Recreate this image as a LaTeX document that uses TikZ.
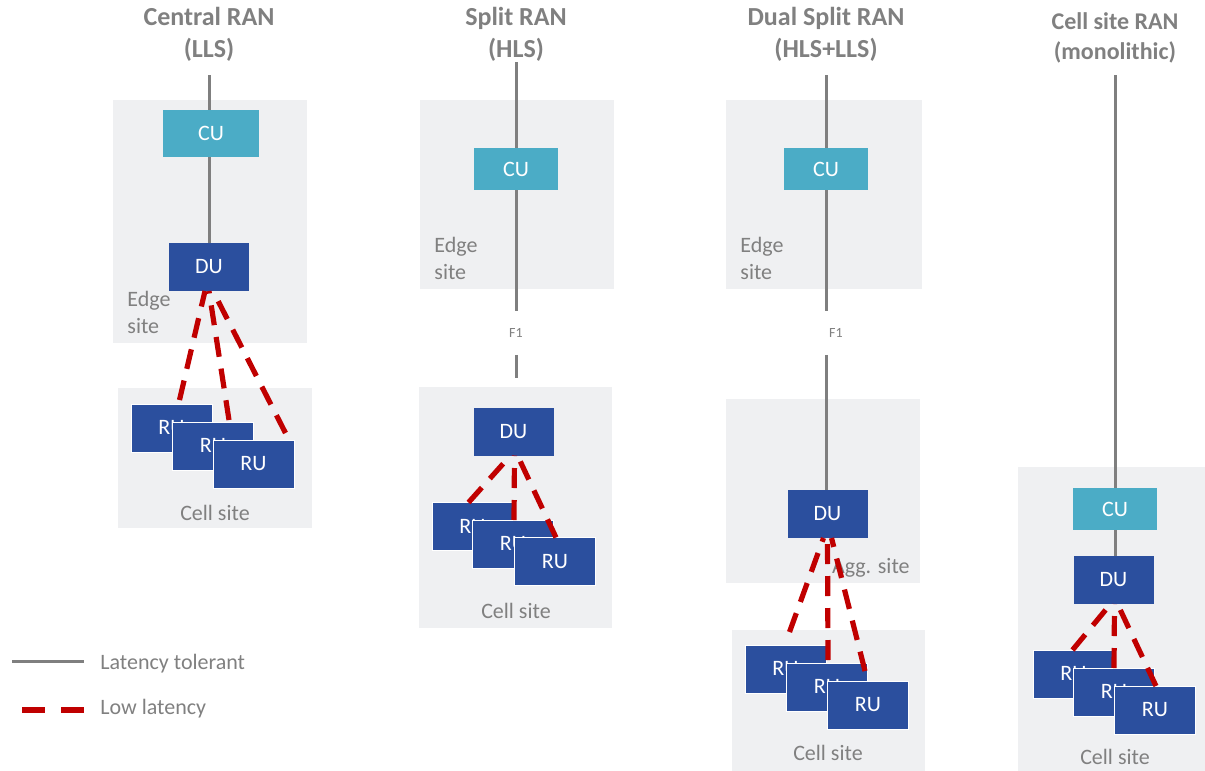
\documentclass[tikz,border=0pt]{standalone}
\usepackage{fontspec}
\setmainfont{Carlito}
\definecolor{sitegray}{HTML}{EFF0F2}
\definecolor{cuteal}{HTML}{4BACC6}
\definecolor{dublue}{HTML}{2B4F9E}
\definecolor{linegray}{HTML}{7F7F7F}
\definecolor{textgray}{HTML}{808080}
\definecolor{lowred}{HTML}{C00000}
\tikzset{
  site/.style={fill=sitegray},
  unit/.style={inner sep=0, outer sep=0, text=white, font=\fontsize{11}{13}\selectfont},
  cu/.style={unit, fill=cuteal, minimum width=42pt, minimum height=21pt},
  du/.style={unit, fill=dublue, minimum width=40pt, minimum height=24pt},
  ru/.style={unit, fill=dublue, draw=white, line width=0.4pt, minimum width=40.5pt, minimum height=24pt},
  tol/.style={draw=linegray, line width=1.5pt},
  low/.style={draw=lowred, line width=2.6pt, dash pattern=on 10pt off 6pt},
  title/.style={text=textgray, font=\bfseries\fontsize{13}{16}\selectfont, align=center},
  sitelabel/.style={text=textgray, inner sep=0, font=\fontsize{11}{13.5}\selectfont, align=left},
  f1/.style={text=textgray, inner sep=0, minimum height=21.5pt, font=\fontsize{7}{8}\selectfont},
}
\begin{document}
\begin{tikzpicture}[x=0.5pt,y=-0.5pt]
\useasboundingbox (0,0) rectangle (1205,771);

% site backgrounds
\fill[site] (113,100) rectangle (307,343);
\fill[site] (118,388) rectangle (312,528);
\fill[site] (420,100) rectangle (614,289);
\fill[site] (419,387) rectangle (612,628);
\fill[site] (726,100) rectangle (922,289);
\fill[site] (726,399) rectangle (920,583);
\fill[site] (732,630) rectangle (925,771);
\fill[site] (1018,467) rectangle (1205,771);

% Central RAN (LLS)
\node[title] (titleA) at (209,34) {Central RAN\\(LLS)};
\coordinate (topA) at (209,75);
\node[cu, minimum width=48pt, minimum height=23.5pt] (cuA) at (211,133.5) {CU};
\node[du] (duA) at (209,267) {DU};
\node[sitelabel, anchor=west] (edgeA) at (127,312) {Edge\\site};
\node[ru] (ruA1) at (171.5,428) {RU};
\node[ru] (ruA2) at (213,446) {RU};
\node[ru] (ruA3) at (253.5,464) {RU};
\node[sitelabel] (cellA) at (215,513) {Cell site};
\draw[tol] (topA) -- (topA |- cuA.north);
\draw[tol] (topA |- cuA.south) -- (duA);
\draw[low] ([xshift=4pt,yshift=2pt]ruA1.north) -- ([xshift=-2pt]duA.south);
\draw[low] ([xshift=8pt,yshift=1pt]ruA2.north) -- (duA.south);
\draw[low] ([xshift=16pt,yshift=3.5pt]ruA3.north) -- ([xshift=2pt]duA.south);

% Split RAN (HLS)
\node[title] (titleB) at (516,34) {Split RAN\\(HLS)};
\coordinate (topB) at (516,62);
\node[cu] (cuB) at (516,169) {CU};
\node[sitelabel, anchor=west] (edgeB) at (434,258) {Edge\\site};
\node[f1] (f1B) at (516,333) {F1};
\coordinate (endB) at (516,378);
\node[du] (duB) at (513.5,431.5) {DU};
\node[ru] (ruB1) at (472.5,526.5) {RU};
\node[ru] (ruB2) at (513,544) {RU};
\node[ru] (ruB3) at (555,561.5) {RU};
\node[sitelabel] (cellB) at (516,611) {Cell site};
\draw[tol] (topB) -- (cuB);
\draw[tol] (cuB) -- (cuB |- f1B.north);
\draw[tol] (cuB |- f1B.south) -- (endB);
\draw[low] ([xshift=-2pt]ruB1.north) -- ([xshift=-1.5pt]duB.south);
\draw[low] ([xshift=0.5pt]ruB2.north) -- ([xshift=0.5pt]duB.south);
\draw[low] ([xshift=0.5pt]ruB3.north) -- ([xshift=2pt]duB.south);

% Dual Split RAN (HLS+LLS)
\node[title] (titleC) at (826,34) {Dual Split RAN\\(HLS+LLS)};
\coordinate (topC) at (826,75);
\node[cu] (cuC) at (826,169) {CU};
\node[sitelabel, anchor=west] (edgeC) at (740,258) {Edge\\site};
\node[f1] (f1C) at (836,333) {F1};
\node[du] (duC) at (827.5,514) {DU};
\node[sitelabel, anchor=east] (aggC) at (910,568) {Agg. site};
\node[ru] (ruC1) at (785.5,669) {RU};
\node[ru] (ruC2) at (827,687) {RU};
\node[ru] (ruC3) at (868,705) {RU};
\node[sitelabel] (cellC) at (828,753) {Cell site};
\draw[tol] (topC) -- (cuC);
\draw[tol] (cuC) -- (cuC |- f1C.north);
\draw[tol] (cuC |- f1C.south) -- (cuC |- duC.north);
\draw[low] ([xshift=2pt,yshift=6.5pt]ruC1.north) -- ([xshift=-2pt]duC.south);
\draw[low] ([xshift=0.5pt,yshift=1.5pt]ruC2.north) -- (duC.south);
\draw[low] ([xshift=-1.5pt,yshift=5pt]ruC3.north) -- ([xshift=2pt]duC.south);

% Cell site RAN (monolithic)
\node[title, font=\bfseries\fontsize{12}{15}\selectfont] (titleD) at (1115,38) {Cell site RAN\\(monolithic)};
\coordinate (topD) at (1115,75);
\node[cu] (cuD) at (1115,509) {CU};
\node[du] (duD) at (1113.5,580) {DU};
\node[ru] (ruD1) at (1073.5,674) {RU};
\node[ru] (ruD2) at (1114,692) {RU};
\node[ru] (ruD3) at (1155,710) {RU};
\node[sitelabel] (cellD) at (1115,757) {Cell site};
\draw[tol] (topD) -- (cuD);
\draw[tol] (cuD) -- (cuD |- duD.north);
\draw[low] ([xshift=-0.5pt]ruD1.north) -- ([xshift=-1.5pt]duD.south);
\draw[low] (ruD2.north) -- ([xshift=0.5pt]duD.south);
\draw[low] ([xshift=0.5pt]ruD3.north) -- ([xshift=2pt]duD.south);

% legend
\coordinate (tolL) at (12,661);
\coordinate (tolR) at (84,661);
\coordinate (lowL) at (22,710);
\coordinate (lowR) at (84,710);
\node[sitelabel, anchor=west] (tolText) at (100,664) {Latency tolerant};
\node[sitelabel, anchor=west] (lowText) at (100,709) {Low latency};
\draw[tol] (tolL) -- (tolR);
\draw[low, dash pattern=on 11.5pt off 8pt] (lowL) -- (lowR);
\end{tikzpicture}
\end{document}
